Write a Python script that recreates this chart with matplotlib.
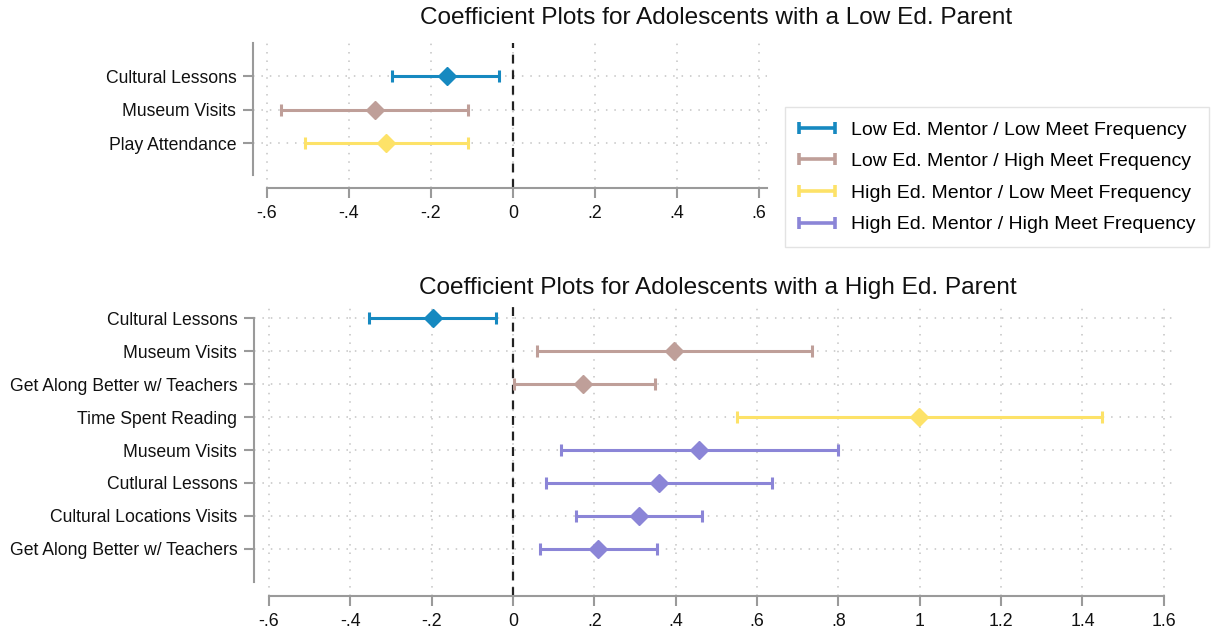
import numpy as np
import matplotlib.pyplot as plt
from matplotlib.lines import Line2D
from matplotlib.legend_handler import HandlerBase

plt.rcParams['font.family'] = ['Liberation Sans', 'DejaVu Sans']

# series colours and legend labels
groups = [
    "Low Ed. Mentor / Low Meet Frequency",
    "Low Ed. Mentor / High Meet Frequency",
    "High Ed. Mentor / Low Meet Frequency",
    "High Ed. Mentor / High Meet Frequency",
]
colors = ["#1689c0", "#bf9f99", "#fde268", "#8b85d7"]

# top panel: low ed. parent
low_labels = ["Cultural Lessons", "Museum Visits", "Play Attendance"]
low_group = [0, 1, 2]
low_coef = [-0.161, -0.337, -0.309]
low_lo = [-0.295, -0.566, -0.507]
low_hi = [-0.033, -0.109, -0.109]

# bottom panel: high ed. parent
high_labels = ["Cultural Lessons", "Museum Visits", "Get Along Better w/ Teachers",
               "Time Spent Reading", "Museum Visits", "Cutlural Lessons",
               "Cultural Locations Visits", "Get Along Better w/ Teachers"]
high_group = [0, 1, 1, 2, 3, 3, 3, 3]
high_coef = [-0.197, 0.396, 0.172, 0.999, 0.458, 0.359, 0.310, 0.210]
high_lo = [-0.354, 0.060, 0.003, 0.550, 0.119, 0.082, 0.155, 0.066]
high_hi = [-0.041, 0.735, 0.349, 1.447, 0.798, 0.636, 0.464, 0.353]

low_ticks = [-0.6, -0.4, -0.2, 0, 0.2, 0.4, 0.6]
high_ticks = [-0.6, -0.4, -0.2, 0, 0.2, 0.4, 0.6, 0.8, 1, 1.2, 1.4, 1.6]


def fmt_tick(v):
    s = f"{v:g}"
    s = s.replace("0.", ".")
    return s


class CapLineHandler(HandlerBase):
    # horizontal line with a cap at each end, like the range bars
    def create_artists(self, legend, orig_handle, xdescent, ydescent,
                       width, height, fontsize, trans):
        c = orig_handle.get_color()
        y = height / 2 - ydescent
        line = Line2D([-xdescent, width - xdescent], [y, y], color=c, lw=2.6,
                      transform=trans, solid_capstyle="butt")
        caps = Line2D([-xdescent, width - xdescent], [y, y], color=c, lw=0,
                      marker="|", ms=9, mew=2.6, transform=trans)
        return [line, caps]


W, H = 1221, 632
fig = plt.figure(figsize=(W / 100, H / 100), dpi=100)

spine_col = "#9a9a9a"


def panel(rect, labels, grp, coef, lo, hi, ticks, xlim, ylim, ybounds, xbounds):
    ax = fig.add_axes(rect)
    y = np.arange(1, len(labels) + 1)
    for yi in y:
        ax.axhline(yi, color="#c4c4c4", lw=1.1, ls=(0, (1, 4.5)), zorder=0)
    for t in ticks:
        ax.axvline(t, color="#c4c4c4", lw=1.1, ls=(0, (1, 4.5)), zorder=0)
    ax.axvline(0, color="#222222", lw=1.6, ls=(0, (4, 3)), zorder=1)
    for i in range(len(labels)):
        c = colors[grp[i]]
        ax.errorbar([coef[i]], [y[i]],
                    xerr=[[coef[i] - lo[i]], [hi[i] - coef[i]]],
                    fmt="none", ecolor=c, elinewidth=2.2, capsize=4.5,
                    capthick=2.2, zorder=3)
        ax.plot([coef[i]], [y[i]], marker="D", ms=9.5, color=c, mec=c, zorder=4)
    ax.set_xlim(*xlim)
    ax.set_ylim(*ylim)
    ax.set_yticks(y)
    ax.set_yticklabels(labels, fontsize=12.7)
    ax.set_xticks(ticks)
    ax.set_xticklabels([fmt_tick(t) for t in ticks], fontsize=12.8)
    ax.spines["top"].set_visible(False)
    ax.spines["right"].set_visible(False)
    ax.spines["left"].set_color(spine_col)
    ax.spines["bottom"].set_color(spine_col)
    ax.spines["left"].set_linewidth(1.5)
    ax.spines["bottom"].set_linewidth(1.5)
    ax.spines["left"].set_bounds(*ybounds)
    ax.spines["bottom"].set_bounds(*xbounds)
    ax.tick_params(axis="both", colors=spine_col, labelcolor="#111111",
                   length=7, width=1.5, pad=5)
    return ax


# top panel
t_left, t_top, t_bot = 253, 43, 188
t_xlim = (-0.634, 0.62)
t_w = 410 * (t_xlim[1] - t_xlim[0])
ax1 = panel([t_left / W, 1 - t_bot / H, t_w / W, (t_bot - t_top) / H],
            low_labels, low_group, low_coef, low_lo, low_hi, low_ticks,
            t_xlim, (4.34, 0.015), (0.015, 3.95), (-0.6, 0.62))

# bottom panel
b_left, b_top, b_bot = 254, 305, 596
b_xlim = (-0.637, 1.634)
b_w = 406.7 * (b_xlim[1] - b_xlim[0])
ax2 = panel([b_left / W, 1 - b_bot / H, b_w / W, (b_bot - b_top) / H],
            high_labels, high_group, high_coef, high_lo, high_hi, high_ticks,
            b_xlim, (9.43, 0.6), (1, 9.0), (-0.6, 1.6))

fig.text(716 / W, 1 - 18 / H, "Coefficient Plots for Adolescents with a Low Ed. Parent",
         ha="center", va="center", fontsize=17.6, color="#111111")
fig.text(718 / W, 1 - 288 / H, "Coefficient Plots for Adolescents with a High Ed. Parent",
         ha="center", va="center", fontsize=17.6, color="#111111")

# legend
handles = [Line2D([], [], color=c) for c in colors]
leg = fig.legend(handles, groups, loc="upper left",
                 handler_map={Line2D: CapLineHandler()},
                 bbox_to_anchor=(785 / W, 1 - 107 / H), fontsize=14.0,
                 frameon=True, fancybox=False, edgecolor="#dddddd",
                 handlelength=1.85, handletextpad=0.8, labelspacing=0.72,
                 borderpad=0.72, borderaxespad=0)
leg.get_frame().set_linewidth(1.0)

fig.savefig("out.png", dpi=100)
